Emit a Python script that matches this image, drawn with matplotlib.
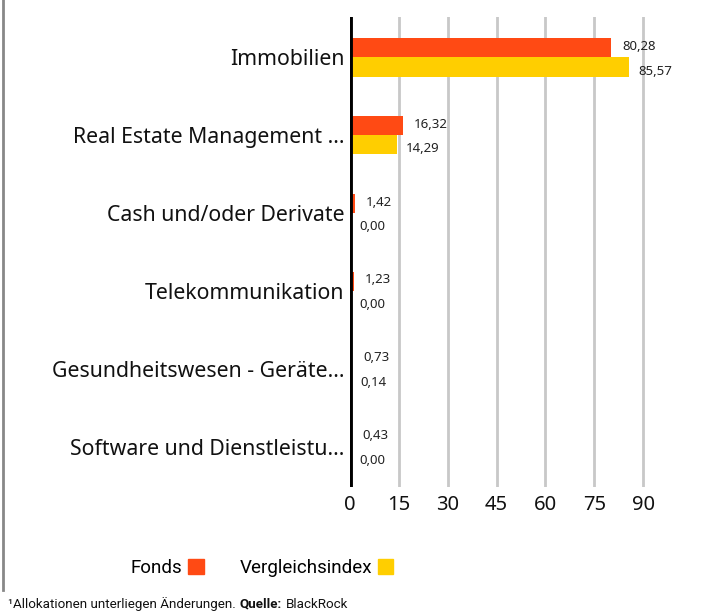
import matplotlib.pyplot as plt
import matplotlib.patches as mpatches
from matplotlib.lines import Line2D
import numpy as np

plt.rcParams['font.family'] = ['Noto Sans', 'DejaVu Sans']
narrow = 'Roboto'

categories = ['Immobilien', 'Real Estate Management ...', 'Cash und/oder Derivate',
              'Telekommunikation', 'Gesundheitswesen - Geräte...', 'Software und Dienstleistu...']
fonds = [80.28, 16.32, 1.42, 1.23, 0.73, 0.43]
index_vals = [85.57, 14.29, 0.00, 0.00, 0.14, 0.00]
ticks = [0, 15, 30, 45, 60, 75, 90]

c_fonds = '#FF4A14'
c_index = '#FFCE00'

fig = plt.figure(figsize=(7.18, 6.14), dpi=100)
ax = fig.add_axes([350 / 718, 1 - 487 / 614, 355 / 718, 470 / 614])

y = np.arange(len(categories))
h = 0.245
ax.barh(y - h / 2, fonds, height=h, color=c_fonds, zorder=3)
ax.barh(y + h / 2, index_vals, height=h, color=c_index, zorder=3)

def fmt(v):
    return f'{v:.2f}'.replace('.', ',')

for i in range(len(categories)):
    ax.annotate(fmt(fonds[i]), (fonds[i], y[i] - h / 2), xytext=(8, 1),
                textcoords='offset points', va='center', ha='left', fontsize=9.5, color='#222222')
    ax.annotate(fmt(index_vals[i]), (index_vals[i], y[i] + h / 2), xytext=(7, -3),
                textcoords='offset points', va='center', ha='left', fontsize=9.5, color='#222222')

ax.set_xlim(0, 109)
ax.set_ylim(len(categories) - 0.48, -0.52)
ax.set_xticks(ticks)
ax.set_xticklabels([str(t) for t in ticks], fontsize=14.5, color='#111111')
ax.set_yticks(y)
ax.set_yticklabels(categories, fontsize=15.3, color='#111111')
ax.tick_params(axis='both', length=0, pad=6)
ax.tick_params(axis='y', pad=4)

for s in ax.spines.values():
    s.set_visible(False)
ax.grid(axis='x', color='#c8c8c8', linewidth=2, zorder=0)
ax.axvline(0, color='black', linewidth=3.5, zorder=4)

# legend with labels before the colour squares
handles = [mpatches.Patch(color=c_fonds), mpatches.Patch(color=c_index)]
fig.legend(handles, ['Fonds', 'Vergleichsindex'], ncol=2, markerfirst=False, frameon=False,
           loc='center', bbox_to_anchor=(262 / 718, 1 - 568 / 614),
           prop={'family': narrow, 'size': 13.5},
           handlelength=0.85, handleheight=0.85, handletextpad=0.3, columnspacing=1.9)

# footnote, pieces placed one after another
fig.canvas.draw()
r = fig.canvas.get_renderer()
x = 8 / 718
yy = 1 - 604 / 614
for txt, wt in [('¹Allokationen unterliegen Änderungen.', 'normal'), ('Quelle:', 'bold'), ('BlackRock', 'normal')]:
    t = fig.text(x, yy, txt, fontsize=9.6, fontweight=wt, family=narrow,
                 va='center', ha='left', color='#111111')
    bb = t.get_window_extent(renderer=r)
    x += bb.width / fig.bbox.width + 4 / 718

fig.add_artist(Line2D([3 / 718, 3 / 718], [1 - 590 / 614, 1], color='#888888', linewidth=2))

fig.savefig('out.png', dpi=100)
